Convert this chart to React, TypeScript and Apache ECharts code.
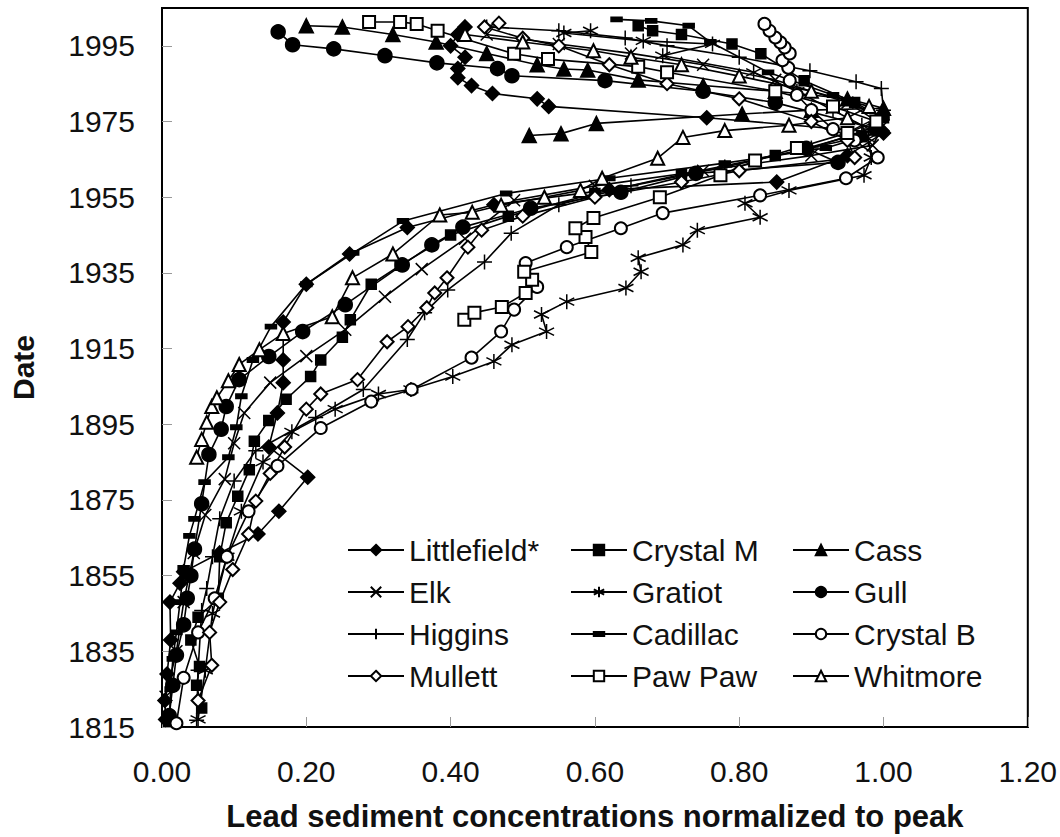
import React, { useEffect, useRef } from "react";
import * as echarts from "echarts";

// Axis settings
const Y_MIN = 1815;
const Y_MAX = 2005;
const Y_STEP = 20;
const X_MIN = 0;
const X_MAX = 1.2;
const X_STEP = 0.2;

// [normalized lead, year]
const littlefield = [
  [0.005, 1817], [0.004, 1822], [0.007, 1829], [0.012, 1838], [0.011, 1848], [0.025, 1853],
  [0.03, 1856], [0.08, 1861], [0.133, 1866],
  [0.162, 1872], [0.202, 1881], [0.148, 1889], [0.16, 1898], [0.168, 1906], [0.168, 1912],
  [0.168, 1922], [0.2, 1932], [0.26, 1940], [0.34, 1947], [0.46, 1953], [0.62, 1957],
  [0.852, 1959], [0.95, 1966], [1.0, 1972], [0.755, 1976], [0.536, 1979], [0.52, 1981],
  [0.458, 1982.4], [0.429, 1984.5], [0.41, 1986.6], [0.41, 1989], [0.42, 1992], [0.4, 1995],
  [0.41, 1998], [0.42, 2000],
];
const crystalM = [
  [0.055, 1820], [0.048, 1826], [0.052, 1831], [0.04, 1838], [0.05, 1844], [0.078, 1849],
  [0.08, 1860], [0.089, 1869],
  [0.105, 1876], [0.121, 1883], [0.128, 1890.5], [0.148, 1896], [0.172, 1901.6], [0.206, 1907.6],
  [0.22, 1912], [0.25, 1918], [0.261, 1922.6], [0.29, 1932], [0.33, 1937], [0.4, 1945],
  [0.48, 1950], [0.6, 1956], [0.72, 1961], [0.85, 1966], [0.97, 1971], [1.0, 1976],
  [0.96, 1980], [0.89, 1985.8], [0.83, 1992.9], [0.79, 1995.5], [0.72, 1998], [0.68, 1999],
  [0.66, 2000.3],
];
const cass = [
  [0.509, 1971.3], [0.553, 1971.8], [0.602, 1974.5], [0.804, 1977], [0.9, 1978], [1.0, 1978.5],
  [0.95, 1981], [0.85, 1983], [0.75, 1984.5], [0.66, 1986], [0.59, 1988.6], [0.557, 1988.9],
  [0.52, 1990], [0.45, 1993], [0.38, 1996], [0.32, 1998], [0.25, 2000], [0.2, 2000.3],
];
const elk = [
  [0.005, 1823], [0.02, 1835], [0.03, 1848], [0.044, 1861], [0.06, 1871], [0.087, 1880.5],
  [0.1, 1890], [0.114, 1898], [0.15, 1906], [0.2, 1913], [0.254, 1920], [0.309, 1928.7],
  [0.36, 1936], [0.42, 1944], [0.488, 1954.2], [0.6, 1958], [0.75, 1962], [0.9, 1966],
  [0.985, 1968.7], [1.0, 1974], [0.95, 1980], [0.85, 1986], [0.75, 1990], [0.65, 1993],
  [0.55, 1995.5], [0.45, 1998],
];
const gratiot = [
  [0.05, 1817], [0.06, 1830], [0.07, 1845], [0.09, 1860], [0.11, 1872], [0.14, 1885],
  [0.18, 1893], [0.24, 1899], [0.3, 1903], [0.345, 1904.2], [0.403, 1907.6], [0.46, 1911.6],
  [0.485, 1916], [0.533, 1919.5], [0.526, 1924], [0.561, 1927.4], [0.643, 1931], [0.664, 1935.3],
  [0.66, 1939], [0.722, 1942.4], [0.742, 1946.3], [0.829, 1949.7], [0.808, 1953.4], [0.869, 1956.8],
  [0.973, 1960.8], [0.983, 1965.5], [0.979, 1970.5], [0.97, 1974], [0.93, 1978], [0.88, 1983],
  [0.82, 1988], [0.694, 1992.4], [0.763, 1995.5], [0.667, 1996.3], [0.557, 1998.4], [0.594, 1999],
];
const gull = [
  [0.01, 1818], [0.015, 1826], [0.02, 1834], [0.03, 1842], [0.035, 1849], [0.04, 1855],
  [0.045, 1862], [0.055, 1874],
  [0.065, 1887], [0.082, 1893.7], [0.089, 1899.7], [0.107, 1906.8], [0.148, 1912.9], [0.195, 1919.5],
  [0.254, 1926.6], [0.333, 1937.1], [0.374, 1942.4], [0.417, 1947.1], [0.511, 1952.1], [0.636, 1956.3],
  [0.74, 1961.3], [0.937, 1964.2], [0.893, 1967.9], [0.99, 1973], [0.85, 1980], [0.75, 1983],
  [0.614, 1985.8], [0.485, 1987.1], [0.465, 1989], [0.381, 1990.5], [0.309, 1992.4], [0.238, 1994.2],
  [0.181, 1995.3], [0.161, 1998.7],
];
const higgins = [
  [0.048, 1816.8], [0.05, 1830], [0.055, 1845.8], [0.062, 1851.6], [0.07, 1860], [0.08, 1870],
  [0.1, 1880], [0.13, 1888], [0.213, 1896.8], [0.279, 1904.2], [0.34, 1917.4], [0.364, 1924.5],
  [0.396, 1930.5], [0.447, 1937.9], [0.484, 1945.5], [0.55, 1953], [0.65, 1958], [0.78, 1963],
  [0.9, 1968], [0.98, 1973], [1.0, 1978], [0.997, 1983.7], [0.962, 1985.5], [0.898, 1988.4],
  [0.8, 1992], [0.7, 1995], [0.642, 1997.1], [0.55, 1999], [0.45, 2000],
];
const cadillac = [
  [0.01, 1816], [0.012, 1825], [0.015, 1833], [0.02, 1840], [0.025, 1848], [0.03, 1857],
  [0.038, 1865.5], [0.045, 1870],
  [0.059, 1879.7], [0.092, 1886.3], [0.103, 1894.2], [0.11, 1902.4], [0.126, 1912], [0.151, 1920.8],
  [0.2, 1932], [0.265, 1940.3], [0.334, 1948.7], [0.477, 1956], [0.62, 1960], [0.78, 1964],
  [0.92, 1968], [0.99, 1972], [1.0, 1976], [0.93, 1982], [0.84, 1988], [0.76, 1996],
  [0.73, 2000.3], [0.678, 2001.6], [0.63, 2002],
];
const crystalB = [
  [0.02, 1816], [0.03, 1828], [0.05, 1840], [0.073, 1849], [0.09, 1860], [0.12, 1872],
  [0.16, 1884], [0.22, 1894], [0.29, 1901], [0.346, 1904.2], [0.429, 1912.6], [0.47, 1919.5],
  [0.488, 1925.3], [0.52, 1931.3], [0.504, 1937.6], [0.561, 1941.8], [0.636, 1946.8], [0.694, 1950.8],
  [0.829, 1955.5], [0.948, 1960], [0.992, 1965.5], [0.96, 1970], [0.93, 1973], [0.9, 1978],
  [0.88, 1982], [0.87, 1985.8], [0.868, 1989.2], [0.86, 1991.2], [0.87, 1993], [0.863, 1994.6],
  [0.857, 1995.9], [0.85, 1997.2], [0.842, 1999], [0.835, 2000.8],
];
const mullett = [
  [0.05, 1822], [0.069, 1831.3], [0.066, 1840], [0.08, 1848], [0.098, 1856.6], [0.12, 1866],
  [0.13, 1874.7], [0.15, 1882], [0.17, 1889], [0.2, 1899], [0.22, 1903], [0.271, 1906.8],
  [0.312, 1916.8], [0.341, 1920.8], [0.367, 1925.8], [0.378, 1929.7], [0.395, 1933.7], [0.424, 1941.8],
  [0.443, 1946.3], [0.5, 1950], [0.6, 1955], [0.72, 1959], [0.8, 1962], [0.96, 1965.5],
  [0.95, 1970], [0.9, 1975], [0.8, 1981], [0.7, 1985], [0.62, 1990], [0.55, 1995],
  [0.5, 1997], [0.447, 2000], [0.467, 2001],
];
const pawPaw = [
  [0.419, 1922.6], [0.433, 1924.5], [0.471, 1926], [0.504, 1929.7], [0.513, 1933.2], [0.502, 1935.3],
  [0.595, 1940.5], [0.587, 1944.5], [0.573, 1946.8], [0.598, 1949.5], [0.69, 1955], [0.774, 1960.8],
  [0.822, 1964.7], [0.88, 1968], [0.95, 1972], [0.99, 1975], [0.93, 1979], [0.85, 1983],
  [0.7, 1988], [0.66, 1989.5], [0.535, 1991.5], [0.488, 1992.9], [0.382, 1999], [0.353, 2000.8],
  [0.33, 2001.3], [0.287, 2001.3],
];
const whitmore = [
  [0.048, 1886.3], [0.055, 1891], [0.062, 1895.5], [0.069, 1899.7], [0.076, 1902], [0.092, 1906.5],
  [0.107, 1910.8], [0.135, 1914.7], [0.168, 1919], [0.236, 1923.4], [0.264, 1933.7], [0.32, 1940],
  [0.385, 1950.3], [0.43, 1951], [0.47, 1952.9], [0.53, 1955], [0.58, 1956.8], [0.61, 1960],
  [0.687, 1965.3], [0.722, 1970.8], [0.78, 1972.6], [0.869, 1974], [0.95, 1976], [0.98, 1979],
  [0.9, 1983], [0.8, 1987], [0.72, 1990], [0.65, 1992], [0.598, 1993.7], [0.5, 1996],
  [0.42, 1998],
];

const legendCol1 = ["Littlefield*", "Elk", "Higgins", "Mullett"];
const legendCol2 = ["Crystal M", "Gratiot", "Cadillac", "Paw Paw"];
const legendCol3 = ["Cass", "Gull", "Crystal B", "Whitmore"];

const SYM_X = "path://M0,0L10,10M10,0L0,10";
const SYM_PLUS = "path://M5,0L5,10M0,5L10,5";
const SYM_STAR = "path://M5,0L5,10M0.7,2.5L9.3,7.5M9.3,2.5L0.7,7.5";
// short filled dash centred in an invisible 10x10 box
const SYM_DASH = "path://M0,0L0,0M10,10L10,10M0,3L10,3L10,7L0,7Z";

const seriesDefs: { name: string; data: number[][]; symbol: string; size: any }[] = [
  { name: "Littlefield*", data: littlefield, symbol: "diamond", size: 14 },
  { name: "Crystal M", data: crystalM, symbol: "rect", size: 10 },
  { name: "Cass", data: cass, symbol: "triangle", size: 14 },
  { name: "Elk", data: elk, symbol: SYM_X, size: 12 },
  { name: "Gratiot", data: gratiot, symbol: SYM_STAR, size: 15 },
  { name: "Gull", data: gull, symbol: "circle", size: 14 },
  { name: "Higgins", data: higgins, symbol: SYM_PLUS, size: 15 },
  { name: "Cadillac", data: cadillac, symbol: SYM_DASH, size: 11 },
  { name: "Crystal B", data: crystalB, symbol: "emptyCircle", size: 12 },
  { name: "Mullett", data: mullett, symbol: "emptyDiamond", size: 13 },
  { name: "Paw Paw", data: pawPaw, symbol: "emptyRect", size: 12 },
  { name: "Whitmore", data: whitmore, symbol: "emptyTriangle", size: 13 },
];

const FONT = "'Liberation Sans', Arial, sans-serif";

export default function App() {
  const ref = useRef<HTMLDivElement>(null);
  useEffect(() => {
    if (!ref.current) return;
    const chart = echarts.init(ref.current, undefined, { renderer: "svg" });
    const legendBase = {
      orient: "vertical",
      top: 529,
      itemWidth: 56,
      itemHeight: 13,
      itemGap: 10,
      selectedMode: false,
      textStyle: { fontFamily: FONT, fontSize: 30, color: "#111", lineHeight: 32 },
    };
    chart.setOption({
      animation: false,
      backgroundColor: "#fff",
      grid: {
        left: 154,
        right: 31,
        top: 8,
        bottom: 108,
        show: true,
        borderColor: "#000",
        borderWidth: 2,
        backgroundColor: "#fff",
      },
      legend: [
        { ...legendBase, left: 342, data: legendCol1 },
        { ...legendBase, left: 565, data: legendCol2 },
        { ...legendBase, left: 787, data: legendCol3 },
      ],
      xAxis: {
        type: "value",
        min: X_MIN,
        max: X_MAX,
        interval: X_STEP,
        name: "Lead sediment concentrations normalized to peak",
        nameLocation: "middle",
        nameGap: 74,
        nameTextStyle: { fontFamily: FONT, fontSize: 31, fontWeight: "bold", color: "#111" },
        axisLine: { show: true, lineStyle: { color: "#000", width: 2 } },
        axisTick: { show: true, inside: true, length: 10, lineStyle: { color: "#999", width: 1 } },
        axisLabel: {
          margin: 29,
          fontFamily: FONT,
          fontSize: 30,
          color: "#111",
          formatter: (v: number) => v.toFixed(2),
        },
        splitLine: { show: false },
      },
      yAxis: {
        type: "value",
        min: 0,
        max: Y_MAX - Y_MIN,
        interval: Y_STEP,
        name: "Date",
        nameLocation: "middle",
        nameRotate: 90,
        nameGap: 124,
        nameTextStyle: { fontFamily: FONT, fontSize: 30, fontWeight: "bold", color: "#111" },
        axisLine: { show: true, lineStyle: { color: "#000", width: 2 } },
        axisTick: { show: true, inside: true, length: 10, lineStyle: { color: "#999", width: 1 } },
        axisLabel: {
          margin: 27,
          fontFamily: FONT,
          fontSize: 30,
          color: "#111",
          showMaxLabel: false,
          formatter: (v: number) => (v >= Y_MAX - Y_MIN ? "" : String(Math.round(v + Y_MIN))),
        },
        splitLine: { show: false },
      },
      series: seriesDefs.map((s) => ({
        name: s.name,
        type: "line",
        data: s.data.map(([x, yr]) => [x, yr - Y_MIN]),
        symbol: s.symbol,
        symbolSize: s.size,
        showAllSymbol: true,
        lineStyle: { color: "#000", width: 1.6 },
        itemStyle: { color: "#000", borderColor: "#000", borderWidth: 1.5 },
        emphasis: { disabled: true },
        silent: true,
        clip: true,
      })),
    });
    return () => chart.dispose();
  }, []);
  return (
    <div
      ref={ref}
      style={{ position: "fixed", left: 0, top: 0, width: 1060, height: 837, background: "#fff" }}
    />
  );
}
